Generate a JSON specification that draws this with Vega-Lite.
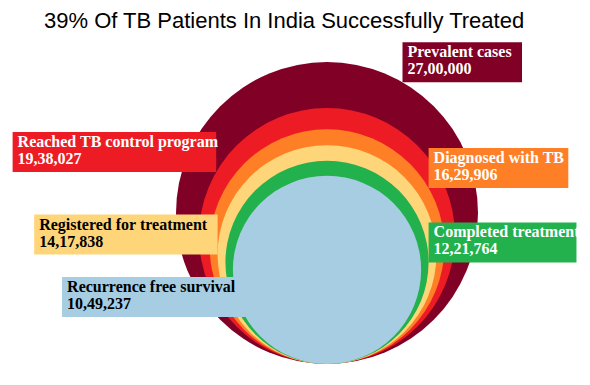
{
  "$schema": "https://vega.github.io/schema/vega-lite/v6.json",
  "width": 590,
  "height": 345,
  "autosize": "none",
  "padding": {"top": 40, "left": 0, "right": 0, "bottom": 0},
  "title": {
    "text": "39% Of TB Patients In India Successfully Treated",
    "anchor": "start",
    "dx": 44,
    "font": "Liberation Sans",
    "fontSize": 22,
    "fontWeight": "normal",
    "color": "#000000",
    "offset": 7
  },
  "config": {
    "view": {"stroke": null},
    "locale": {"number": {"decimal": ".", "thousands": ",", "grouping": [3, 2], "currency": ["₹", ""]}}
  },
  "data": {
    "values": [
      {"stage": "Prevalent cases", "value": 2700000},
      {"stage": "Reached TB control program", "value": 1938027},
      {"stage": "Diagnosed with TB", "value": 1629906},
      {"stage": "Registered for treatment", "value": 1417838},
      {"stage": "Completed treatment", "value": 1221764},
      {"stage": "Recurrence free survival", "value": 1049237}
    ]
  },
  "transform": [
    {"window": [{"op": "row_number", "as": "rank"}], "sort": [{"field": "value", "order": "descending"}]},
    {"calculate": "datum.rank % 2 == 1 ? 1 : -1", "as": "dir"},
    {"calculate": "(75 - 15 * datum.rank - (datum.rank % 2 == 0 ? 15 : 0)) * PI / 180", "as": "theta"},
    {"calculate": "datum.dir * sqrt(datum.value) * cos(datum.theta)", "as": "ax"},
    {"calculate": "datum.value * pow(1 + sin(datum.theta), 2)", "as": "ay"},
    {"calculate": "(7.1 * length(datum.stage) + 3 * length(replace(datum.stage, /[^A-Z]/g, '')) + 10) / 0.091896", "as": "wu"},
    {"calculate": "datum.dir == 1 ? datum.ax : datum.ax - datum.wu", "as": "bx1"},
    {"calculate": "datum.dir == 1 ? datum.ax + datum.wu : datum.ax", "as": "bx2"}
  ],
  "layer": [
    {
      "mark": {"type": "circle", "opacity": 1},
      "encoding": {
        "x": {"datum": 0, "type": "quantitative", "axis": null, "scale": {"domain": [-3558.4, 2861.9], "nice": false, "zero": false}},
        "y": {"field": "value", "type": "quantitative", "axis": null, "scale": {"type": "sqrt", "domain": [0, 2700000], "range": [324, 173], "nice": false}},
        "size": {"field": "value", "type": "quantitative", "legend": null, "scale": {"type": "linear", "domain": [0, 2700000], "range": [0, 91204], "zero": true}},
        "color": {
          "field": "stage", "type": "nominal", "legend": null,
          "scale": {
            "domain": ["Prevalent cases", "Reached TB control program", "Diagnosed with TB", "Registered for treatment", "Completed treatment", "Recurrence free survival"],
            "range": ["#800026", "#ed1c24", "#ff7f27", "#ffd57a", "#22b14c", "#a6cde2"]
          }
        }
      }
    },
    {
      "mark": {"type": "rect", "y2Offset": -40},
      "encoding": {
        "x": {"field": "bx1", "type": "quantitative"},
        "x2": {"field": "bx2"},
        "y": {"field": "ay", "type": "quantitative"},
        "y2": {"field": "ay"},
        "color": {"field": "stage", "type": "nominal", "legend": null}
      }
    },
    {
      "mark": {"type": "text", "align": "left", "baseline": "alphabetic", "dx": 5, "dy": -25, "font": "Liberation Serif", "fontSize": 16, "fontWeight": "bold"},
      "encoding": {
        "x": {"field": "bx1", "type": "quantitative"},
        "y": {"field": "ay", "type": "quantitative"},
        "text": {"field": "stage"},
        "color": {"condition": {"test": "datum.stage == 'Registered for treatment' || datum.stage == 'Recurrence free survival'", "value": "#000000"}, "value": "#ffffff"}
      }
    },
    {
      "mark": {"type": "text", "align": "left", "baseline": "alphabetic", "dx": 5, "dy": -8, "font": "Liberation Serif", "fontSize": 16, "fontWeight": "bold"},
      "encoding": {
        "x": {"field": "bx1", "type": "quantitative"},
        "y": {"field": "ay", "type": "quantitative"},
        "text": {"field": "value", "type": "quantitative", "format": ","},
        "color": {"condition": {"test": "datum.stage == 'Registered for treatment' || datum.stage == 'Recurrence free survival'", "value": "#000000"}, "value": "#ffffff"}
      }
    }
  ]
}
